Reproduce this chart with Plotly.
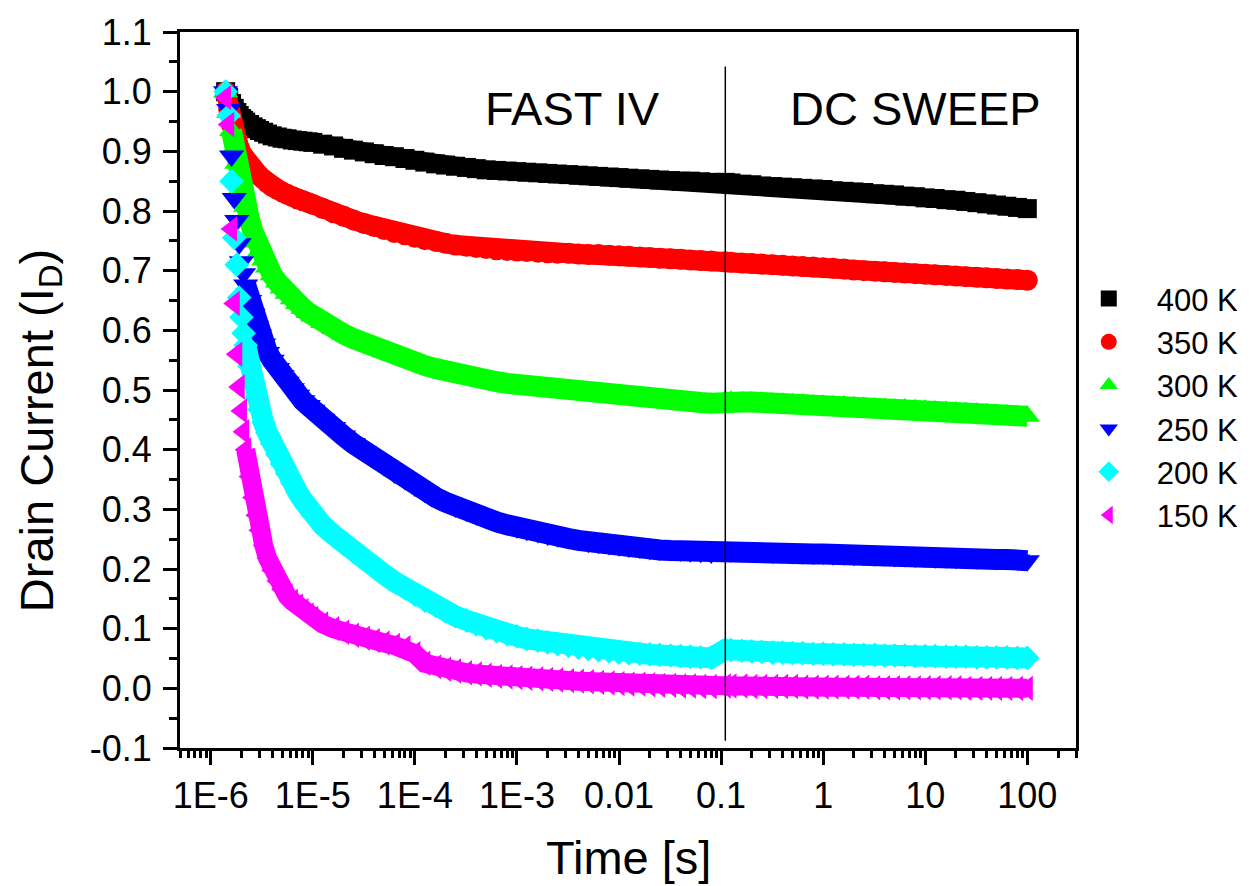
import math
import plotly.graph_objects as go

# Sampling instants of the combined Fast-IV + DC-sweep transient [s]
TIME_S = [
    1.4e-6, 1.5e-6, 1.6e-6, 1.7e-6, 1.8e-6, 1.9e-6, 2.0e-6, 2.1e-6, 2.2e-6, 2.4e-6,
    2.6e-6, 2.8e-6, 3.0e-6, 3.3e-6, 3.6e-6, 4.0e-6, 4.5e-6, 5.0e-6, 5.6e-6, 6.3e-6,
    7.1e-6, 8.0e-6, 9.0e-6,
    1.0e-5, 1.25e-5, 1.6e-5, 2.0e-5, 2.5e-5, 3.2e-5, 4.0e-5, 5.0e-5, 6.3e-5, 8.0e-5,
    1.0e-4, 1.25e-4, 1.6e-4, 2.0e-4, 2.5e-4, 3.2e-4, 4.0e-4, 5.0e-4, 6.3e-4, 8.0e-4,
    1.0e-3, 1.25e-3, 1.6e-3, 2.0e-3, 2.5e-3, 3.2e-3, 4.0e-3, 5.0e-3, 6.3e-3, 8.0e-3,
    1.0e-2, 1.25e-2, 1.6e-2, 2.0e-2, 2.5e-2, 3.2e-2, 4.0e-2, 5.0e-2, 6.3e-2, 8.0e-2,
    0.11, 0.125, 0.16, 0.2, 0.25, 0.32, 0.4, 0.5, 0.63, 0.8,
    1.0, 1.25, 1.6, 2.0, 2.5, 3.2, 4.0, 5.0, 6.3, 8.0,
    10.0, 12.5, 16.0, 20.0, 25.0, 32.0, 40.0, 50.0, 63.0, 80.0,
    100.0,
]

# Normalised drain current for each temperature
ID_400K = [
    1.0, 0.99, 0.98, 0.972, 0.965, 0.96, 0.955, 0.952, 0.949, 0.945,
    0.941, 0.938, 0.935, 0.932, 0.929, 0.926, 0.924, 0.922, 0.921, 0.919,
    0.918, 0.917, 0.916,
    0.915, 0.912, 0.909, 0.905, 0.902, 0.899, 0.896, 0.893, 0.891, 0.888,
    0.885, 0.882, 0.879, 0.877, 0.875, 0.873, 0.871, 0.869, 0.868, 0.867,
    0.866, 0.865, 0.864, 0.863, 0.862, 0.861, 0.86, 0.859, 0.858, 0.857,
    0.856, 0.855, 0.854, 0.853, 0.852, 0.851, 0.85, 0.85, 0.849, 0.848,
    0.848, 0.847, 0.845, 0.844, 0.842, 0.841, 0.84, 0.839, 0.838, 0.837,
    0.836, 0.834, 0.833, 0.832, 0.831, 0.829, 0.828, 0.827, 0.825, 0.824,
    0.822, 0.821, 0.819, 0.818, 0.816, 0.814, 0.812, 0.81, 0.808, 0.806,
    0.804,
]
ID_350K = [
    1.0, 0.97, 0.945, 0.928, 0.916, 0.906, 0.897, 0.891, 0.886, 0.877,
    0.87, 0.864, 0.859, 0.853, 0.847, 0.841, 0.836, 0.832, 0.828, 0.824,
    0.82, 0.817, 0.814,
    0.811, 0.804, 0.797, 0.791, 0.785, 0.779, 0.774, 0.769, 0.764, 0.76,
    0.756, 0.752, 0.749, 0.746, 0.743, 0.741, 0.739, 0.737, 0.735, 0.734,
    0.733, 0.732, 0.731, 0.73, 0.729, 0.729, 0.728, 0.727, 0.727, 0.726,
    0.725, 0.724, 0.723, 0.722, 0.721, 0.72, 0.719, 0.718, 0.717, 0.716,
    0.715, 0.714, 0.713, 0.712, 0.711, 0.71, 0.709, 0.708, 0.707, 0.706,
    0.705, 0.704, 0.703, 0.701, 0.7, 0.699, 0.698, 0.697, 0.696, 0.695,
    0.694, 0.693, 0.692, 0.691, 0.69, 0.689, 0.688, 0.687, 0.686, 0.685,
    0.684,
]
ID_300K = [
    1.0, 0.965, 0.935, 0.905, 0.88, 0.858, 0.84, 0.822, 0.808, 0.785,
    0.765, 0.748, 0.733, 0.718, 0.706, 0.693, 0.681, 0.671, 0.662, 0.653,
    0.645, 0.637, 0.63,
    0.624, 0.613, 0.603, 0.594, 0.586, 0.578, 0.571, 0.564, 0.558, 0.552,
    0.546, 0.541, 0.536, 0.531, 0.527, 0.523, 0.52, 0.517, 0.514, 0.511,
    0.509, 0.506, 0.504, 0.502, 0.5, 0.498, 0.496, 0.494, 0.492, 0.49,
    0.488, 0.487, 0.486, 0.485, 0.484, 0.482, 0.481, 0.48, 0.479, 0.478,
    0.482, 0.481, 0.48, 0.48, 0.479, 0.478, 0.478, 0.477, 0.476, 0.475,
    0.474, 0.473, 0.473, 0.472, 0.471, 0.47, 0.469, 0.468, 0.468, 0.467,
    0.466, 0.465, 0.464, 0.463, 0.462, 0.461, 0.46, 0.459, 0.458, 0.457,
    0.456,
]
ID_250K = [
    1.0, 0.97, 0.892, 0.821, 0.784, 0.745, 0.715, 0.695, 0.676, 0.65,
    0.627, 0.607, 0.592, 0.577, 0.563, 0.55, 0.536, 0.524, 0.513, 0.502,
    0.491, 0.482, 0.474,
    0.466, 0.451, 0.437, 0.423, 0.41, 0.397, 0.385, 0.373, 0.361, 0.35,
    0.339, 0.329, 0.32, 0.312, 0.304, 0.297, 0.291, 0.285, 0.279, 0.274,
    0.269, 0.265, 0.261, 0.257, 0.254, 0.251, 0.248, 0.245, 0.243, 0.241,
    0.239, 0.237, 0.235, 0.233, 0.232, 0.231, 0.23, 0.229, 0.228, 0.227,
    0.23, 0.229, 0.229, 0.228, 0.228, 0.227, 0.227, 0.226, 0.226, 0.225,
    0.225, 0.224, 0.224, 0.223, 0.223, 0.222, 0.222, 0.221, 0.221, 0.22,
    0.22, 0.219, 0.219, 0.218, 0.218, 0.217, 0.217, 0.216, 0.216, 0.215,
    0.214,
]
ID_200K = [
    1.0, 0.96, 0.85, 0.755, 0.71, 0.655, 0.622, 0.595, 0.575, 0.54,
    0.51, 0.487, 0.467, 0.445, 0.428, 0.41, 0.392, 0.376, 0.36, 0.344,
    0.329, 0.315, 0.302,
    0.291, 0.273, 0.257, 0.242, 0.229, 0.216, 0.203, 0.191, 0.179, 0.168,
    0.157, 0.147, 0.138, 0.129, 0.121, 0.114, 0.107, 0.101, 0.096, 0.091,
    0.087, 0.083, 0.08, 0.077, 0.074, 0.071, 0.068, 0.066, 0.064, 0.062,
    0.06, 0.059, 0.058, 0.057, 0.056, 0.055, 0.054, 0.053, 0.052, 0.051,
    0.065, 0.064, 0.063, 0.062, 0.061, 0.06, 0.06, 0.059, 0.059, 0.058,
    0.058, 0.057, 0.057, 0.056, 0.056, 0.056, 0.055, 0.055, 0.055, 0.054,
    0.054, 0.054, 0.053, 0.053, 0.053, 0.052, 0.052, 0.052, 0.052, 0.051,
    0.051,
]
ID_150K = [
    0.99, 0.945, 0.77, 0.645, 0.56, 0.505, 0.465, 0.43, 0.40, 0.355,
    0.32, 0.29, 0.265, 0.24, 0.218, 0.198, 0.18, 0.166, 0.155, 0.146,
    0.138, 0.13, 0.123,
    0.117, 0.108, 0.1, 0.094, 0.089, 0.084, 0.08, 0.076, 0.072, 0.068,
    0.058, 0.042, 0.036, 0.032, 0.029, 0.026, 0.024, 0.022, 0.02, 0.019,
    0.018, 0.017, 0.016, 0.015, 0.014, 0.013, 0.012, 0.011, 0.01, 0.009,
    0.008, 0.007, 0.007, 0.006, 0.005, 0.005, 0.004, 0.004, 0.003, 0.003,
    0.004, 0.004, 0.004, 0.003, 0.003, 0.003, 0.003, 0.003, 0.002, 0.002,
    0.002, 0.002, 0.002, 0.002, 0.002, 0.001, 0.001, 0.001, 0.001, 0.001,
    0.001, 0.001, 0.001, 0.001, 0.0, 0.0, 0.0, 0.0, 0.0, 0.0,
    0.0,
]

SERIES_NAMES = ["400 K", "350 K", "300 K", "250 K", "200 K", "150 K"]
SERIES_VALUES = [ID_400K, ID_350K, ID_300K, ID_250K, ID_200K, ID_150K]
SERIES_COLORS = ["#000000", "#ff0000", "#00ff00", "#0000ff", "#00ffff", "#ff00ff"]
SERIES_SYMBOLS = ["square", "circle", "triangle-up", "triangle-down", "diamond", "triangle-left"]
SERIES_SIZES = [19, 21, 22, 22, 19, 22]
# dense overlapping symbols form a solid ribbon; the ribbon starts after the
# first few isolated points of the steep curves
RIBBON_WIDTH = [18, 20, 21, 21, 21, 19]
RIBBON_START = [0, 0, 2, 8, 8, 8]

X_TICK_VALS = [1e-6, 1e-5, 1e-4, 1e-3, 1e-2, 1e-1, 1, 10, 100]
X_TICK_TEXT = ["1E-6", "1E-5", "1E-4", "1E-3", "0.01", "0.1", "1", "10", "100"]
Y_TICK_VALS = [-0.1, 0.0, 0.1, 0.2, 0.3, 0.4, 0.5, 0.6, 0.7, 0.8, 0.9, 1.0, 1.1]
Y_TICK_TEXT = ["-0.1", "0.0", "0.1", "0.2", "0.3", "0.4", "0.5", "0.6", "0.7", "0.8", "0.9", "1.0", "1.1"]

X_MIN, X_MAX = 5e-7, 300
Y_MIN, Y_MAX = -0.1, 1.1
SPLIT_TIME = 0.11   # hand-over from Fast IV to DC sweep

FONT = "Liberation Sans, Arial, sans-serif"

x_range = [math.log10(X_MIN), math.log10(X_MAX)]
x_minor = [m * 10.0 ** e for e in range(-7, 3) for m in range(2, 10)
           if X_MIN <= m * 10.0 ** e <= X_MAX]
y_minor = [round(v + 0.05, 2) for v in Y_TICK_VALS[:-1]]

fig = go.Figure()
for name, vals, col, sym, size, rw, rs in zip(SERIES_NAMES, SERIES_VALUES, SERIES_COLORS,
                                              SERIES_SYMBOLS, SERIES_SIZES,
                                              RIBBON_WIDTH, RIBBON_START):
    fig.add_trace(go.Scatter(
        x=TIME_S[rs:], y=vals[rs:], mode="lines", showlegend=False, hoverinfo="skip",
        line=dict(color=col, width=rw), legendgroup=name,
    ))
    fig.add_trace(go.Scatter(
        x=TIME_S, y=vals, name=name, mode="markers", legendgroup=name,
        marker=dict(symbol=sym, size=size, color=col, line=dict(width=0)),
    ))

axis_common = dict(
    showgrid=False, zeroline=False, linecolor="black", linewidth=3,
    tickcolor="black", tickwidth=3, ticklen=14,
    tickfont=dict(family=FONT, size=36, color="black"),
)

fig.update_layout(
    width=1256, height=886,
    margin=dict(l=180, r=180, t=25, b=138),
    paper_bgcolor="white", plot_bgcolor="white",
    font=dict(family=FONT, color="black"),
    showlegend=True,
    legend=dict(
        x=0.983, y=0.665, xanchor="left", yanchor="top",
        font=dict(family=FONT, size=31, color="black"),
        bgcolor="rgba(0,0,0,0)", tracegroupgap=0, itemwidth=86,
    ),
    xaxis=dict(
        type="log", range=x_range, tickmode="array",
        tickvals=X_TICK_VALS, ticktext=X_TICK_TEXT, ticks="outside",
        showline=True, mirror=True,
        minor=dict(tickmode="array", tickvals=x_minor, ticks="outside",
                   ticklen=7, tickwidth=3, tickcolor="black"),
        **axis_common,
    ),
    yaxis=dict(
        range=[Y_MIN, Y_MAX], tickmode="array",
        tickvals=Y_TICK_VALS, ticktext=Y_TICK_TEXT, ticks="outside",
        showline=True, mirror=True, ticklabelstandoff=4,
        minor=dict(tickmode="array", tickvals=y_minor, ticks="outside",
                   ticklen=8, tickwidth=3, tickcolor="black"),
        **axis_common,
    ),
    xaxis2=dict(
        type="log", range=x_range, overlaying="x", side="top", anchor="y",
        tickmode="array", tickvals=X_TICK_VALS, ticks="inside",
        showticklabels=False, showline=False,
        minor=dict(tickmode="array", tickvals=x_minor, ticks="inside",
                   ticklen=7, tickwidth=3, tickcolor="black"),
        **axis_common,
    ),
    yaxis2=dict(
        range=[Y_MIN, Y_MAX], overlaying="y", side="right", anchor="x",
        tickmode="array", tickvals=Y_TICK_VALS, ticks="inside",
        showticklabels=False, showline=False,
        minor=dict(tickmode="array", tickvals=y_minor, ticks="inside",
                   ticklen=8, tickwidth=3, tickcolor="black"),
        **axis_common,
    ),
)

# Divider between the pulsed (Fast IV) and DC sweep measurements
fig.add_shape(type="line", xref="x", yref="y",
              x0=SPLIT_TIME, x1=SPLIT_TIME, y0=-0.088, y1=1.042,
              line=dict(color="black", width=1.5))

big = dict(family=FONT, size=47, color="black")
fig.add_annotation(text="FAST IV", xref="paper", yref="paper", x=0.4386, y=0.8935,
                   xanchor="center", yanchor="middle", showarrow=False, font=big)
fig.add_annotation(text="DC SWEEP", xref="paper", yref="paper", x=0.8214, y=0.8935,
                   xanchor="center", yanchor="middle", showarrow=False, font=big)
fig.add_annotation(text="Time [s]", xref="paper", yref="paper", x=0.5, y=-0.153,
                   xanchor="center", yanchor="middle", showarrow=False,
                   font=dict(family=FONT, size=47, color="black"))
fig.add_annotation(text="Drain Current (I<sub>D</sub>)", xref="paper", yref="paper",
                   x=-0.157, y=0.443, xanchor="center", yanchor="middle",
                   textangle=-90, showarrow=False,
                   font=dict(family=FONT, size=47, color="black"))

fig.write_html("out.html")
